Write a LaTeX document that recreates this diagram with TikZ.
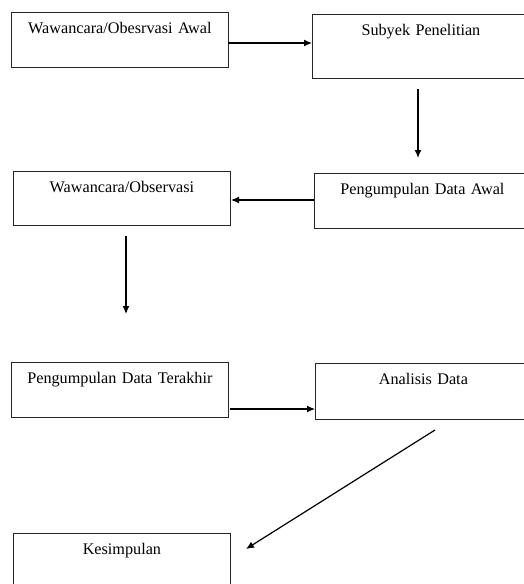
\documentclass[tikz,border=0pt]{standalone}
\usepackage{fontspec}
\setmainfont{Liberation Serif}
\usetikzlibrary{arrows.meta,calc}
\begin{document}
\begin{tikzpicture}[x=1pt,y=-1pt,
  box/.style={draw=black!85,line width=0.8pt,inner sep=0pt,anchor=north west,
    align=center,font=\fontsize{16.2}{19}\selectfont,text height=21pt},
  arr/.style={line width=1.2pt,-{Latex[length=8pt,width=7pt]}}]
\clip (0,0) rectangle (524,584);
\fill[white] (0,0) rectangle (524,584);
\node[box,text width=217pt,text depth=34pt] (b1) at (11,12) {Wawancara/Obesrvasi Awal};
\node[box,text width=217pt,text depth=43pt] (b2) at (312,14) {Subyek Penelitian};
\node[box,text width=217pt,text depth=33pt] (b3) at (13,171) {Wawancara/Observasi};
\node[box,text width=216pt,text depth=34pt] (b4) at (314,173) {Pengumpulan Data Awal};
\node[box,text width=217pt,text depth=34pt] (b5) at (11,362) {Pengumpulan Data Terakhir};
\node[box,text width=216pt,text depth=35pt] (b6) at (315,363) {Analisis Data};
\node[box,text width=217pt,text depth=34pt] (b7) at (13,533) {Kesimpulan};
\coordinate (a1s) at (228,43);
\coordinate (a2s) at (418,89);
\coordinate (a2e) at (418,158);
\coordinate (a3s) at (314,200);
\coordinate (a3e) at (231,200);
\coordinate (a4s) at (126,236);
\coordinate (a4e) at (126,314);
\coordinate (a5s) at (230,409);
\coordinate (a6s) at (435,430);
\coordinate (a6e) at (246,549);
\draw[arr] (a1s) -- (a1s -| b2.west);
\draw[arr] (a2s) -- (a2e);
\draw[arr] (a3s) -- (a3e);
\draw[arr] (a4s) -- (a4e);
\draw[arr] (a5s) -- (a5s -| b6.west);
\draw[arr] (a6s) -- (a6e);
\end{tikzpicture}
\end{document}
